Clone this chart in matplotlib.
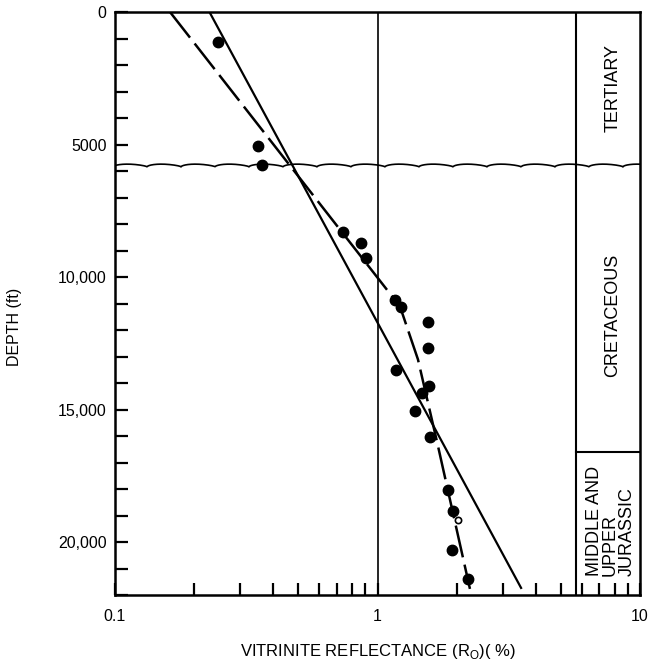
"""
Vitrinite reflectance vs depth, log Ro axis, with stratigraphic column on the right.
"""

import matplotlib

matplotlib.use("Agg")  # headless
import matplotlib.pyplot as plt
import numpy as np

plt.rcParams["font.family"] = ["Liberation Sans", "DejaVu Sans"]

# --- data --------------------------------------------------------------------
ro_samples = [0.247, 0.350, 0.363, 0.739, 0.865, 0.904, 1.166, 1.226, 1.557,
              1.557, 1.176, 1.571, 1.477, 1.39, 1.585, 1.856, 1.94, 1.922, 2.22]
depth_samples = [1130, 5050, 5760, 8290, 8700, 9270, 10850, 11150, 11710,
                 12690, 13520, 14120, 14390, 15070, 16050, 18040, 18830, 20300, 21390]
ro_open = [2.026]
depth_open = [19170]

# straight regression line (solid)
fit_ro = [0.229, 3.54]
fit_depth = [0, 21770]

# hand-drawn trend (dashed)
trend_ro = [0.162, 1.218, 1.426, 1.70, 2.25]
trend_depth = [0, 11110, 13110, 16380, 21770]

# stratigraphy
unconformity_depth = 5850
column_left = 5.7
jurassic_top = 16610
unit_names = ["TERTIARY", "CRETACEOUS", "MIDDLE AND\nUPPER\nJURASSIC"]
unit_label_ro = [7.89, 7.89, 7.72]
unit_label_depth = [2880, 11450, 21280]

depth_ticks = list(range(0, 23000, 1000))
depth_labels = {0: "0", 5000: "5000", 10000: "10,000", 15000: "15,000", 20000: "20,000"}


def main() -> None:
    fig = plt.figure(figsize=(6.52, 6.65), dpi=100)
    ax = fig.add_axes([115 / 652, 70 / 665, 525 / 652, 583 / 665])
    ax.set_xscale("log")
    ax.set_xlim(0.1, 10)
    ax.set_ylim(22000, 0)

    # guide lines: Ro = 1 and the stratigraphic column
    ax.axvline(1, color="black", lw=1.2)
    ax.axvline(column_left, color="black", lw=1.5)
    ax.plot([column_left, 10], [jurassic_top, jurassic_top], color="black", lw=1.5)

    # unconformity: scalloped line with small hooks (decorative symbol, not data)
    logx = np.linspace(-1, 1, 1600)
    period = 0.1295
    phase = ((logx - (-1 + 0.122)) / period) % 1.0
    bump = np.sin(np.pi * phase) ** 0.5 * (1 - 0.35 * phase)
    wave = unconformity_depth - 130 * bump
    ax.plot(10 ** logx, wave, color="black", lw=1.2)

    # trend lines
    ax.plot(fit_ro, fit_depth, color="black", lw=1.6, solid_capstyle="butt")
    ax.plot(trend_ro, trend_depth, color="black", lw=1.8,
            dashes=(13, 3), dash_capstyle="butt")

    # samples
    ax.plot(ro_samples, depth_samples, "o", color="black", ms=7.5, zorder=5)
    ax.plot(ro_open, depth_open, "o", mfc="white", mec="black", ms=4.5,
            mew=1.2, zorder=6)

    # unit names in the column
    for name, x, y in zip(unit_names, unit_label_ro, unit_label_depth):
        va = "bottom" if "\n" in name else "center"
        ax.text(x, y, name, rotation=90, ha="center", va=va,
                multialignment="left", linespacing=0.95, fontsize=13)

    # ticks
    ax.set_yticks(depth_ticks)
    ax.set_yticklabels([depth_labels.get(d, "") for d in depth_ticks])
    ax.set_xticks([0.1, 1, 10])
    ax.set_xticklabels(["0.1", "1", "10"])
    ax.tick_params(axis="both", which="both", direction="in", length=9,
                   width=1.6, labelsize=11.5)
    ax.tick_params(axis="y", pad=6)
    ax.tick_params(axis="x", pad=10)
    for spine in ax.spines.values():
        spine.set_linewidth(1.8)

    ax.set_ylabel("DEPTH (ft)", fontsize=11.5)
    ax.yaxis.set_label_coords(-0.177, 0.46)
    ax.set_xlabel(r"VITRINITE REFLECTANCE (R$_\mathregular{O}$)( %)", fontsize=12)
    ax.xaxis.set_label_coords(0.5, -0.08)

    fig.savefig("out.png", dpi=100)
    plt.close(fig)


if __name__ == "__main__":
    main()
